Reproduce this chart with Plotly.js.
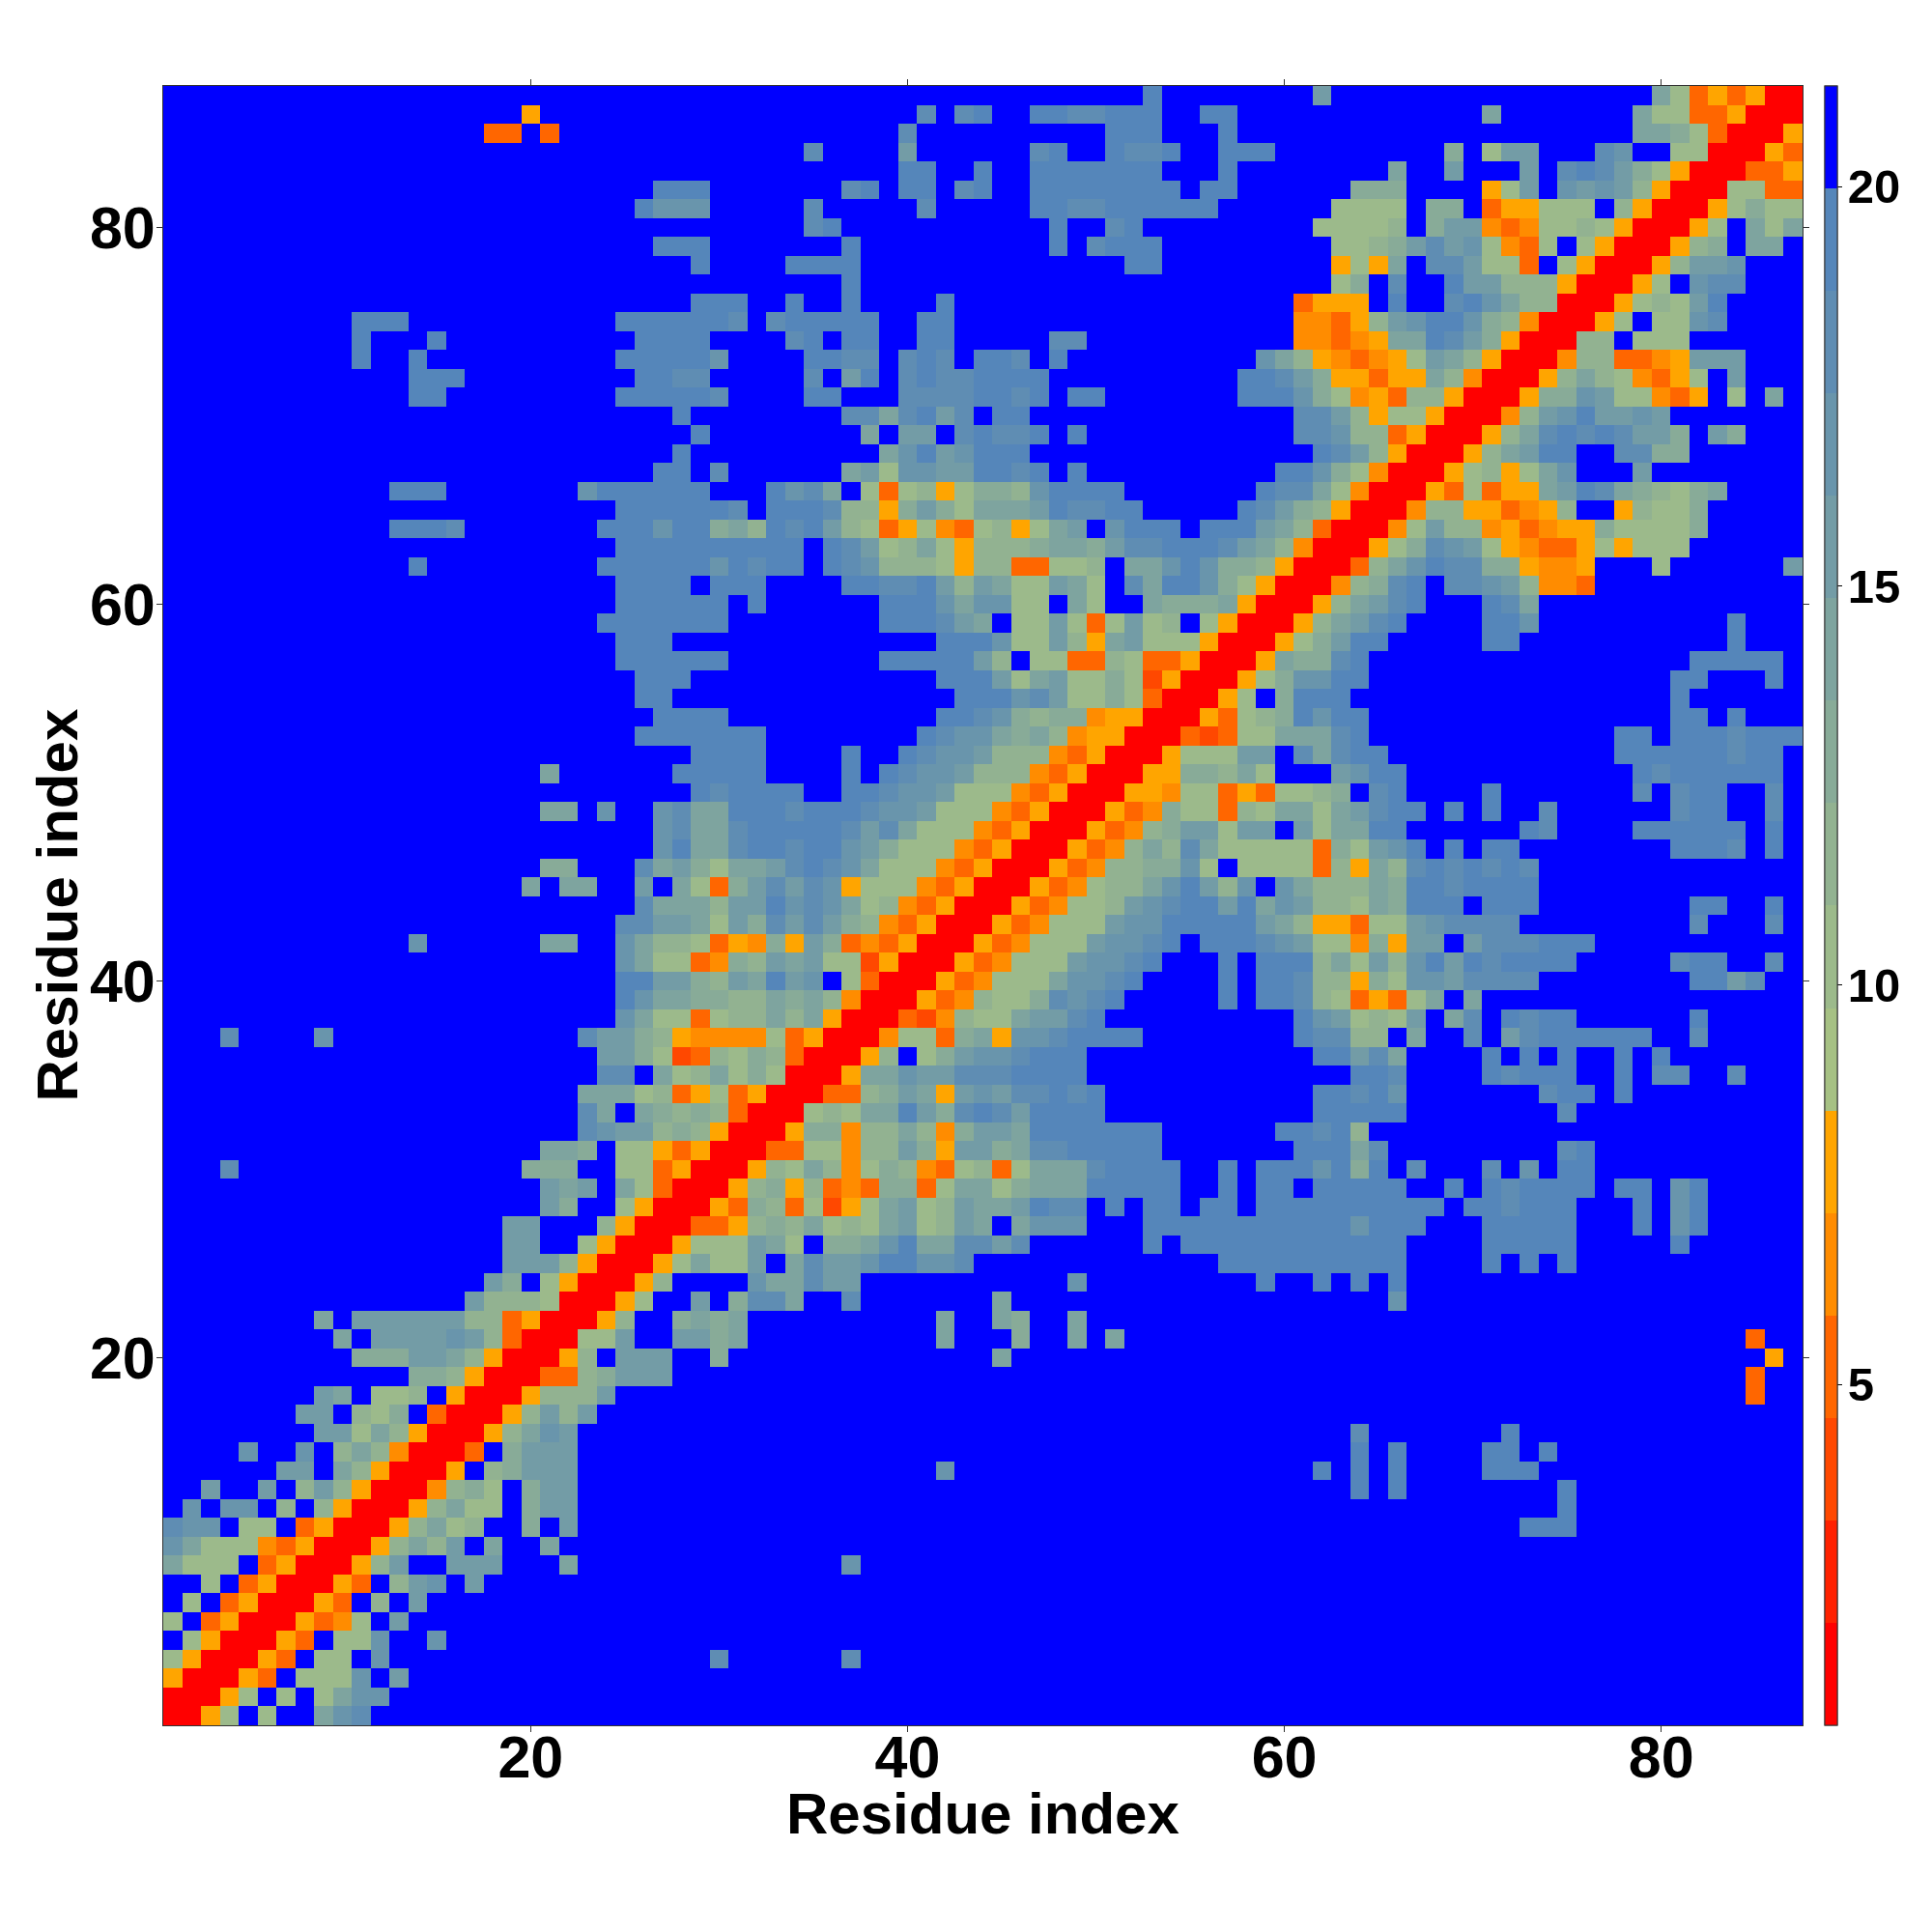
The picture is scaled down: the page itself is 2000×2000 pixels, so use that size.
<!DOCTYPE html>
<html><head><meta charset="utf-8">
<script src="https://cdn.plot.ly/plotly-3.0.1.min.js"></script>
<style>html,body{margin:0;padding:0;background:#fff}</style></head>
<body><div id="chart" style="width:2000px;height:2000px"></div>
<script>
// Palette bands, lowest distance first
const bandColors = ['#FF0000','#FF2100','#FF4800','#FF6600','#FF8C00','#FFA500','#A6C184','#9CBA8B','#92B291','#88AB98','#7EA49F','#739CA6','#6995AC','#5F8DB3','#5586BA','#0000FF'];
const zMin = 0.73, zMax = 21.26;
const residues = Array.from({length:87},(_,i)=>i+1);
const tickVals = [20,40,60,80];
const cbarTicks = [5,10,15,20];
const axisLabel = 'Residue index';
// Upper triangle, one entry per row y=87 down to y=2. "x:bands": band digits (hex) starting at residue x. Missing cells = top band (blue).
const rowsHigh = [
"53:e 62:b 80:a735350",
"20:5 41:d 43:de 47:eeddeee 56:ee 71:a 79:a773350",
"18:33 21:3 40:d 51:eee 57:e 79:aa9730",
"35:d 40:b 47:de 51:edde 57:ee 59:e 69:9 71:7bb 77:dc 81:770",
"40:ee 44:e 47:eeeeeee 57:e 66:a 69:b 73:b 75:dedb9750",
"27:eee 37:de 40:ee 43:de 47:eeeeeeee 56:ee 64:999 71:57b 75:cbcb850",
"26:eccc 35:d 41:d 47:eeddeeeeee 63:7777 68:99 71:355777 78:850",
"35:de 48:e 51:de 62:77778 68:9bb434778750",
"27:eee 37:e 48:e 50:deee 63:7789bdbc7437f750",
"29:e 34:eeee 52:ee 63:575afddb773f750",
"37:e 63:79 66:d 69:ebb88850",
"29:eee 34:e 37:e 42:e 61:3555 66:e 69:deca880",
"11:eee 25:eeeee 30:ed 33:deeeee 41:ee 61:44358bc 68:eec9840",
"11:e 15:e 26:eeee 34:de 37:ee 41:ee 48:dd 61:44345aa 68:edb950",
"11:e 14:e 25:eeeee 30:c 35:eedd 40:ded 44:eed 48:e 59:ca8543457ba850",
"14:eee 26:eedd 35:d 37:be 40:deddeeee 58:e 59:edb955355a840",
"14:ee 25:eeeee 30:d 35:ee 40:ddddeede 49:ee 58:e 59:eec974538850",
"28:e 37:ddadebdfee 61:ddb857750",
"29:e 38:a 40:bb 43:de 45:dde 49:e 61:ddc88350",
"28:e 39:acebceee 62:edb850",
"27:ee 30:d 37:ab7ccbbeede 49:e 60:eec9740",
"13:eee 23:ceeeeee 33:ecdaf737857998ceeee 59:edda740",
"25:eeeee 30:edfeeed8859b97aaabeddee 58:edb9850",
"13:eeed 24:eeecee 30:9a8edeb87357437857abfceeefeee 59:ba830",
"25:eeeee 30:eeeeefedb78a758889aa9bddeeedb 59:a840",
"14:e 24:eeeeee 30:cedeefedc888758833778faacec99 59:850",
"25:eeee 30:eee 37:eeddeb8ba77ba7 52:daeec97 59:50",
"25:eeeee 30:e 32:e 39:eee 42:cacc77fa7ffa999a5 59:0"
];
const rowsMid = [
"24:eeeeee 30:e 39:eee 42:dbaf77b737b78f750",
"25:eee 42:eeec77b85ab77750",
"25:eeeee 30:e 39:eeeee 44:b8f7733873350",
"26:eee 42:eeeb7ab7797250",
"26:ee 43:eeecdb779730",
"27:eee 30:e 42:eedc98994550",
"26:eeeeeee 41:edcca9a84550",
"29:eeee 37:e 40:edccb8884350",
"21:a 28:eeeee 37:e 39:edccb8884350",
"29:edeeee 37:eedccb7774350",
"21:aa 24:c 27:cdaaeeedeeedccb7774350",
"27:cdaadeeeeedbda7774350",
"27:ceaadeedeecb97774350",
"21:99 26:dab97aabdedca7774350",
"20:a 22:aa 26:b 28:a739bdbdc57774350",
"26:daaa8bbecdca784350",
"25:ddbba7b9dbdb984350",
"14:c 21:aa 25:ca88735495b934350",
"25:ca77349 8bab77250".replace(' ',''),
"25:eebb98baebcf730",
"25:ecaa9988a9a840",
"25:ca773788a8a50",
"4:d 9:c 23:dbb98544447350",
"24:bb9723879830",
"24:ddfa78a7970",
"23:aaa78357350",
"23:dafa989830",
"23:dcbb89850",
"21:aa9f775350"
];
const rowsLow = [
"4:d 20:999 25:77350",
"21:bab 25:a730",
"21:b9 25:750",
"19:bb 24:850",
"19:bb 23:750",
"19:bbb850",
"18:b9 21:750",
"17:b88870",
"9:a 11:bbbbbb88350",
"10:a 12:bbbbcb830",
"11:999bba850",
"14:99850",
"9:ba 12:778 16:50",
"8:bb 11:879 15:30",
"9:bb7a850",
"5:c 8:c 10:8a840",
"7:bb 10:a850",
"3:b 6:b 8:8b850",
"2:c 4:cc 7:8 9:850",
"1:dcc 5:77 8:350",
"1:ca7774350",
"1:a777 6:350",
"3:7 5:350",
"2:7 4:350",
"1:7 3:350",
"2:750",
"1:750",
"1:50",
"1:0"
];
const allRows = rowsHigh.concat(rowsMid, rowsLow);
const step = (zMax - zMin) / bandColors.length;
const bandValue = b => zMin + (b + 0.5) * step;
const n = residues.length;
const z = residues.map(() => residues.map(() => bandValue(15)));
for (let i = 0; i < n; i++) z[i][i] = bandValue(0);
allRows.forEach((row, k) => {
  const y = n - k;
  row.split(' ').forEach(tok => {
    const [start, digits] = tok.split(':');
    [...digits].forEach((d, o) => {
      const x = +start + o;
      const v = bandValue(parseInt(d, 16));
      z[y-1][x-1] = v;
      z[x-1][y-1] = v;
    });
  });
});
const colorscale = [];
bandColors.forEach((c, i) => {
  colorscale.push([i / bandColors.length, c]);
  colorscale.push([(i + 1) / bandColors.length, c]);
});
const font = 'Liberation Sans, Arial, sans-serif';
const titleFont = {family: font, size: 60, color: '#000', weight: 700};
const axisCommon = {
  range: [0.5, 87.5], tickvals: tickVals, ticks: 'outside', ticklen: 6, tickwidth: 1, tickcolor: '#333',
  showline: true, linecolor: '#333', linewidth: 1, mirror: 'ticks', showgrid: false, zeroline: false,
  tickfont: {family: font, size: 61, color: '#000', weight: 700}
};
const cbarBase = {
  x: 1.0136, xanchor: 'left', xpad: 0, y: 0, yanchor: 'bottom', ypad: 0, len: 1, lenmode: 'fraction',
  thickness: 13, thicknessmode: 'pixels', outlinewidth: 1, outlinecolor: '#333', tickvals: cbarTicks
};
Plotly.newPlot('chart', [{
  type: 'heatmap', x: residues, y: residues, z: z, zmin: zMin, zmax: zMax, zsmooth: false,
  colorscale: colorscale, opacity: 0, hoverinfo: 'skip',
  colorbar: Object.assign({}, cbarBase, {ticks: 'outside', ticklen: 5, tickwidth: 1, tickcolor: '#000', showticklabels: false})
}, {
  type: 'heatmap', x: residues, y: residues, z: z, zmin: zMin, zmax: zMax, zsmooth: false,
  colorscale: colorscale,
  colorbar: Object.assign({}, cbarBase, {ticks: '', ticklen: 0,
    tickfont: {family: font, size: 49, color: '#000', weight: 700}})
}], {
  width: 2000, height: 2000, paper_bgcolor: '#fff', plot_bgcolor: '#fff',
  margin: {l: 169, r: 134, t: 89, b: 214, pad: 0},
  xaxis: Object.assign({}, axisCommon, {ticklabelstandoff: -26}),
  yaxis: Object.assign({}, axisCommon, {ticklabelstandoff: -11}),
  annotations: [
    {text: axisLabel, xref: 'paper', yref: 'paper', x: 0.5, y: -0.0542, xanchor: 'center', yanchor: 'middle', showarrow: false, font: titleFont},
    {text: axisLabel, xref: 'paper', yref: 'paper', x: -0.0648, y: 0.5, xanchor: 'center', yanchor: 'middle', textangle: -90, showarrow: false, font: titleFont}
  ]
}, {displayModeBar: false, staticPlot: true});
</script></body></html>
